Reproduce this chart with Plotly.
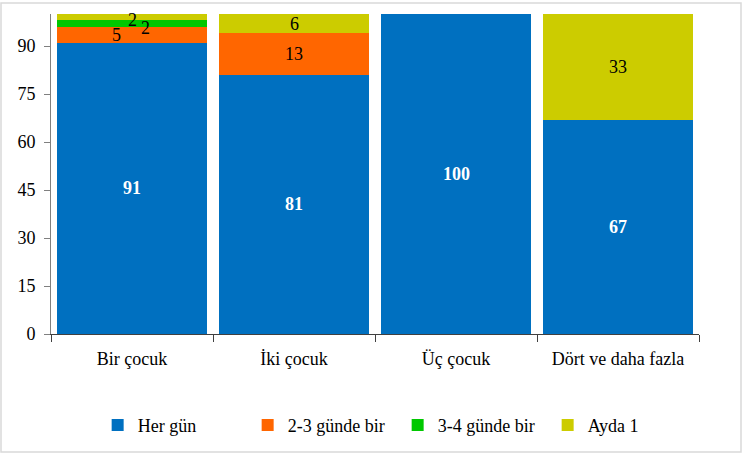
import plotly.graph_objects as go

categories = ["Bir çocuk", "İki çocuk", "Üç çocuk", "Dört ve daha fazla"]
series_names = ["Her gün", "2-3 günde bir", "3-4 günde bir", "Ayda 1"]
her_gun = [91, 81, 100, 67]
iki_uc = [5, 13, 0, 0]
uc_dort = [2, 0, 0, 0]
ayda_1 = [2, 6, 0, 33]
y_ticks = [0, 15, 30, 45, 60, 75, 90]

colors = ["#0070C0", "#FF6600", "#00C800", "#CCCC00"]
series = [her_gun, iki_uc, uc_dort, ayda_1]

FONT = "Liberation Serif, Times New Roman, serif"
fig = go.Figure()
for name, vals, col in zip(series_names, series, colors):
    fig.add_trace(go.Bar(x=categories, y=vals, name=name, marker_color=col,
                         marker_line_width=0))

# label offsets (Excel-like overlapping placement for tiny segments)
shifts = {
    (0, 1): (-16, 0), (0, 2): (13, -4), (0, 3): (0, -3),
}
annotations = []
for ci, cat in enumerate(categories):
    base = 0
    for si, vals in enumerate(series):
        v = vals[ci]
        if v > 0:
            xs, ys = shifts.get((ci, si), (0, 0))
            annotations.append(dict(
                x=cat, y=base + v / 2,
                text=("<b>%d</b>" % v) if si == 0 else str(v),
                showarrow=False, xshift=xs, yshift=ys,
                font=dict(family=FONT, size=18,
                          color="white" if si == 0 else "black"),
            ))
        base += v

fig.update_layout(
    barmode="stack",
    width=743, height=455,
    margin=dict(l=51, r=44, t=14, b=121, autoexpand=False),
    paper_bgcolor="white", plot_bgcolor="white",
    bargap=0.07,
    font=dict(family=FONT, size=17, color="black"),
    showlegend=True,
    legend=dict(orientation="h", x=0.072, xanchor="left", y=-0.285,
                yanchor="middle", font=dict(family=FONT, size=18),
                itemwidth=30, traceorder="normal", itemsizing="constant",
                entrywidth=105),
    annotations=annotations,
    shapes=[dict(type="rect", xref="paper", yref="paper",
                 x0=-50/648, x1=1 + 42/648, y0=-118/320, y1=1 + 11/320,
                 line=dict(color="#D9D9D9", width=1.5), layer="below")],
)
fig.update_xaxes(showline=True, linecolor="#404040", linewidth=1,
                 ticks="outside", ticklen=7, tickcolor="#404040",
                 tickson="boundaries", showgrid=False, automargin=False,
                 ticklabelstandoff=8,
                 tickfont=dict(family=FONT, size=18))
fig.update_yaxes(range=[0, 100], tickvals=y_ticks, showline=True,
                 linecolor="#808080", linewidth=1, ticks="outside",
                 ticklen=6, tickcolor="#808080", showgrid=False,
                 automargin=False, zeroline=False, ticklabelstandoff=5,
                 tickfont=dict(family=FONT, size=18))

fig.write_html("out.html", config={"displayModeBar": False},
               post_script="document.body.style.margin='0';document.body.style.overflow='hidden';")
